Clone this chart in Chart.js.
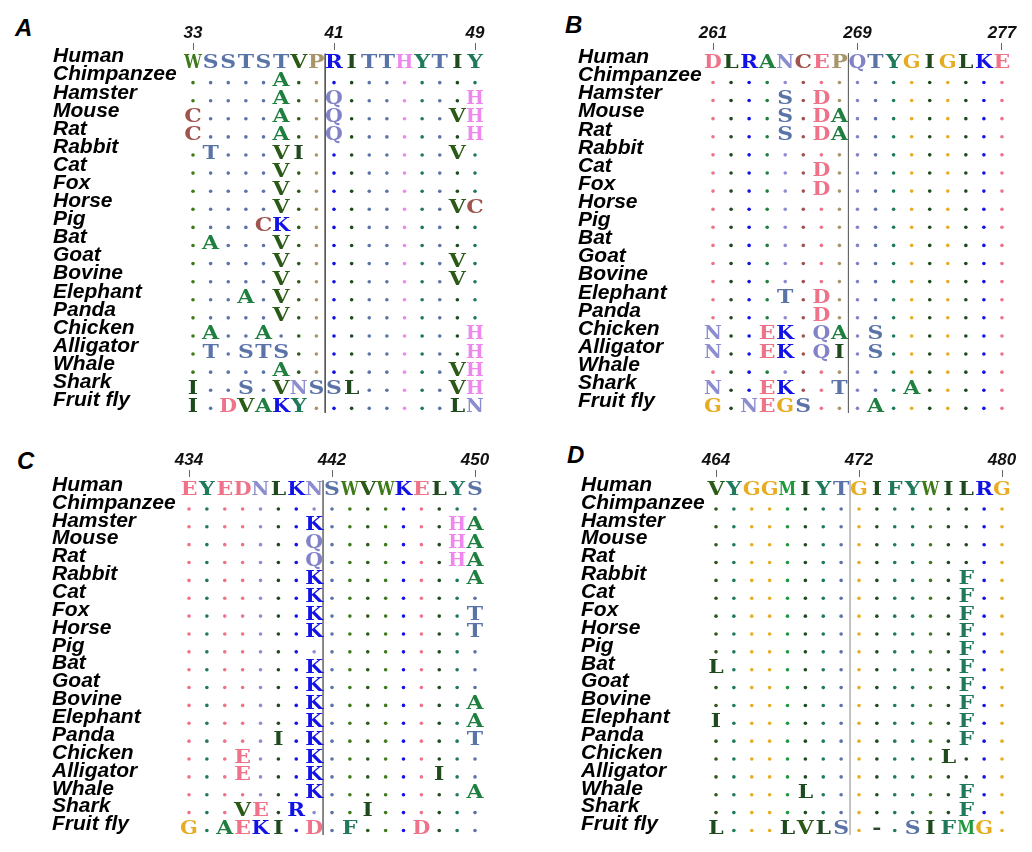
<!DOCTYPE html>
<html>
<head>
<meta charset="utf-8">
<script src="https://cdn.jsdelivr.net/npm/chart.js@4.4.0/dist/chart.umd.min.js"></script>
<style>
  body { margin:0; background:#fff; width:1032px; height:852px; position:relative; overflow:hidden; }
  canvas { position:absolute; }
  .tag { position:absolute; font:bold italic 24px "Liberation Sans", Arial, sans-serif; line-height:1; color:#000; }
</style>
</head>
<body>
<div class="tag" style="left:15px;top:16px">A</div>
<div class="tag" style="left:565px;top:13px">B</div>
<div class="tag" style="left:17px;top:449px">C</div>
<div class="tag" style="left:567px;top:443px">D</div>
<canvas id="panelA" width="516" height="430" style="left:0;top:0"></canvas>
<canvas id="panelB" width="516" height="430" style="left:516px;top:0"></canvas>
<canvas id="panelC" width="516" height="422" style="left:0;top:430px"></canvas>
<canvas id="panelD" width="516" height="422" style="left:516px;top:430px"></canvas>
<script>
// especies, una fila por especie (Human es la referencia)
const species = ['Human','Chimpanzee','Hamster','Mouse','Rat','Rabbit','Cat','Fox','Horse','Pig',
  'Bat','Goat','Bovine','Elephant','Panda','Chicken','Alligator','Whale','Shark','Fruit fly'];

// panel A: residuos 33-49  ('.' = igual que Human)
const startA = 33;
const ticksA = [33, 41, 49];
const alignA = [
  'WSSTSTVPRITTHYTIY',
  '.....A...........',
  '.....A..Q.......H',
  'C....A..Q......VH',
  'C....A..Q.......H',
  '.T...VI........V.',
  '.....V...........',
  '.....V...........',
  '.....V.........VC',
  '....CK...........',
  '.A...V...........',
  '.....V.........V.',
  '.....V.........V.',
  '...A.V...........',
  '.....V...........',
  '.A..A...........H',
  '.T.STS..........H',
  '.....A.........VH',
  'I..S.VNSSL.....VH',
  'I.DVAKY........LN'
];

// panel B: residuos 261-277
const startB = 261;
const ticksB = [261, 269, 277];
const alignB = [
  'DLRANCEPQTYGIGLKE',
  '.................',
  '....S.D..........',
  '....S.DA.........',
  '....S.DA.........',
  '.................',
  '......D..........',
  '......D..........',
  '.................',
  '.................',
  '.................',
  '.................',
  '.................',
  '....T.D..........',
  '......D..........',
  'N..EK.QA.S.......',
  'N..EK.QI.S.......',
  '.................',
  'N..EK..T...A.....',
  'G.NEGS...A.......'
];

// panel C: residuos 434-450
const startC = 434;
const ticksC = [434, 442, 450];
const alignC = [
  'EYEDNLKNSWVWKELYS',
  '.................',
  '.......K.......HA',
  '.......Q.......HA',
  '.......Q.......HA',
  '.......K........A',
  '.......K.........',
  '.......K........T',
  '.......K........T',
  '.................',
  '.......K.........',
  '.......K.........',
  '.......K........A',
  '.......K........A',
  '.....I.K........T',
  '...E...K.........',
  '...E...K......I..',
  '.......K........A',
  '...VE.R...I......',
  'G.AEKI.D.F...D...'
];

// panel D: residuos 464-480
const startD = 464;
const ticksD = [464, 472, 480];
const alignD = [
  'VYGGMIYTGIFYWILRG',
  '.................',
  '.................',
  '.................',
  '.................',
  '..............F..',
  '..............F..',
  '..............F..',
  '..............F..',
  '..............F..',
  'L.............F..',
  '..............F..',
  '..............F..',
  'I.............F..',
  '..............F..',
  '.............L...',
  '.................',
  '.....L........F..',
  '..............F..',
  'L...LVLS.-.SIFMG.'
];

// colores por aminoacido
const aaColors = {
  A:'#1f7f3f', V:'#2b5a16', I:'#1e4a1e', L:'#1e4a1e', M:'#1e9a3c', F:'#20795a', W:'#3f7a1a', Y:'#1f7a5a',
  C:'#a0544e', G:'#e8ac22', P:'#a8966a', S:'#5b74a8', T:'#5b74a8', N:'#8c8cd0', Q:'#8282c8',
  D:'#f07288', E:'#f07288', K:'#1212e6', R:'#1212e6', H:'#ee88ee', '-':'#2e4a2e'
};

const labelFont = { family:'"Liberation Sans", Arial, sans-serif', size:21, weight:'bold', style:'italic' };
const numFont = { family:'"Liberation Sans", Arial, sans-serif', size:17, weight:'bold', style:'italic' };

// dibuja las letras de los residuos sobre los puntos del dataset 0
const residuePlugin = {
  id: 'residues',
  afterDatasetsDraw(chart) {
    const ctx = chart.ctx;
    const meta = chart.getDatasetMeta(0);
    const data = chart.data.datasets[0].data;
    ctx.save();
    ctx.font = 'bold 18px "DejaVu Serif", serif';
    ctx.textAlign = 'center';
    ctx.textBaseline = 'alphabetic';
    meta.data.forEach((pt, i) => {
      const d = data[i];
      if (d.ch === '.') return;
      ctx.fillStyle = aaColors[d.ch] || '#333';
      ctx.save();
      ctx.translate(pt.x, pt.y + 3.5);
      ctx.scale(1.22, 1); // letras mas anchas como en el original
      ctx.fillText(d.ch, 0, 0, 14.6);
      ctx.restore();
    });
    ctx.restore();
  }
};

const panels = [
  { id:'panelA', start:startA, ticks:ticksA, rows:alignA, box:{x:0, y:0, w:516, h:430},
    labelX:53, col0:193, colStep:17.625, row0:64.7, rowStep:18.3, axisBottom:50, labelShift:-8, divider:'#555' },
  { id:'panelB', start:startB, ticks:ticksB, rows:alignB, box:{x:516, y:0, w:516, h:430},
    labelX:578, col0:713, colStep:18.06, row0:64.5, rowStep:18.3, axisBottom:50, labelShift:-7, divider:'#666' },
  { id:'panelC', start:startC, ticks:ticksC, rows:alignC, box:{x:0, y:430, w:516, h:422},
    labelX:52, col0:189, colStep:17.875, row0:491.5, rowStep:18.42, axisBottom:477, labelShift:-6, divider:'#777' },
  { id:'panelD', start:startD, ticks:ticksD, rows:alignD, box:{x:516, y:430, w:516, h:422},
    labelX:581, col0:716, colStep:17.875, row0:491.5, rowStep:18.37, axisBottom:477, labelShift:-6, divider:'#bbb' }
];

function buildPanel(p) {
  const ncol = p.rows[0].length;
  const pts = [];
  p.rows.forEach((seq, r) => {
    for (let c = 0; c < ncol; c++) {
      pts.push({ x: p.start + c, y: r, ch: seq[c], ref: p.rows[0][c] });
    }
  });

  // area del grafico en coordenadas del canvas
  const left = p.col0 - p.colStep / 2 - p.box.x;
  const right = p.col0 + (ncol - 0.5) * p.colStep - p.box.x;
  const top = p.axisBottom - p.box.y;
  const bottom = p.row0 + (species.length - 0.5) * p.rowStep - p.box.y;
  const padLeft = p.labelX - p.box.x;
  const yMin = (p.axisBottom - p.row0) / p.rowStep;
  const mid = p.start + (ncol - 1) / 2 - 0.5;

  new Chart(document.getElementById(p.id), {
    type: 'scatter',
    data: {
      datasets: [{
        data: pts,
        pointRadius: (c) => (c.raw && c.raw.ch === '.') ? 1.8 : 0,
        pointHoverRadius: 0,
        pointBorderWidth: 0,
        pointBackgroundColor: (c) => c.raw ? aaColors[c.raw.ref] : '#000'
      }, {
        type: 'line',
        data: [{ x: mid, y: -0.6 }, { x: mid, y: species.length - 0.75 }],
        borderColor: p.divider,
        borderWidth: 1,
        pointRadius: 0
      }]
    },
    options: {
      responsive: false,
      devicePixelRatio: 1,
      animation: false,
      layout: { padding: { left: padLeft, right: p.box.w - right, top: 0, bottom: p.box.h - bottom } },
      plugins: { legend: { display: false }, tooltip: { enabled: false } },
      scales: {
        x: {
          type: 'linear', position: 'top', bounds: 'data',
          min: p.start - 0.5, max: p.start + ncol - 0.5,
          afterBuildTicks: (s) => { s.ticks = p.ticks.map(v => ({ value: v })); },
          afterFit: (s) => { s.height = top; },
          ticks: { autoSkip: false, maxRotation: 0, padding: -1, color: '#111', font: numFont, callback: (v) => String(v) },
          grid: { drawOnChartArea: false, drawTicks: true, tickLength: 7, color: '#666', lineWidth: 1 },
          border: { display: false }
        },
        y: {
          type: 'linear', reverse: true, bounds: 'data',
          min: yMin, max: species.length - 0.5,
          afterBuildTicks: (s) => { s.ticks = species.map((_, i) => ({ value: i })); },
          afterFit: (s) => { s.width = left - padLeft; },
          ticks: { autoSkip: false, crossAlign: 'far', padding: 0, labelOffset: p.labelShift,
                   color: '#000', font: labelFont, callback: (v) => species[v] },
          grid: { display: false, drawTicks: false },
          border: { display: false }
        }
      }
    },
    plugins: [residuePlugin]
  });
}

panels.forEach(buildPanel);
</script>
</body>
</html>
